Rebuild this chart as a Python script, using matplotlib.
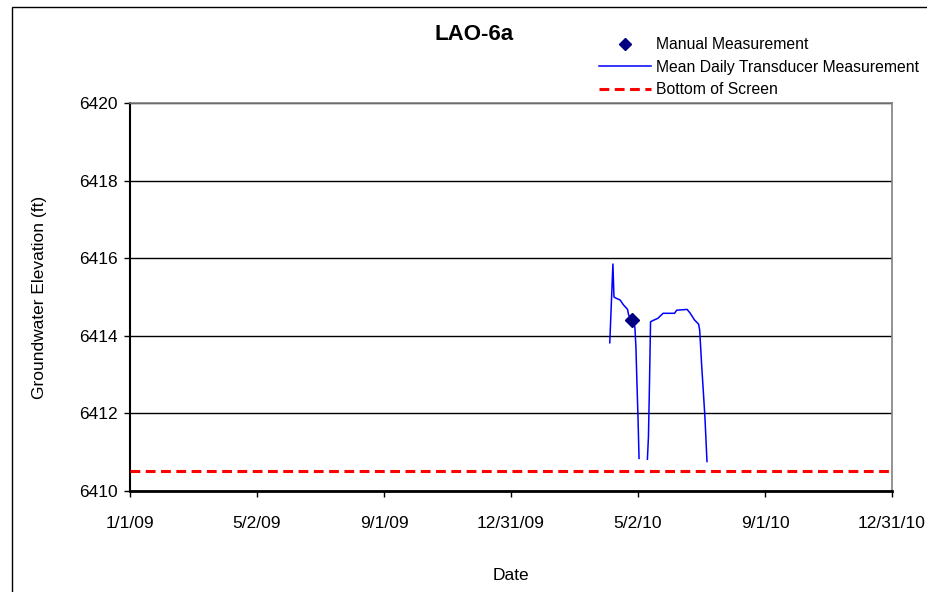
import numpy as np
import pandas as pd
import matplotlib
matplotlib.use("Agg")
import matplotlib.pyplot as plt
import matplotlib.dates as mdates
from matplotlib.lines import Line2D
from matplotlib.patches import Rectangle

plt.rcParams['font.family'] = ['Liberation Sans', 'DejaVu Sans']

# Mean daily transducer record (NaN marks the data gap)
transducer_dates = [
    "2010-04-05", "2010-04-08", "2010-04-09", "2010-04-11", "2010-04-15",
    "2010-04-18", "2010-04-22", "2010-04-23", "2010-04-26", "2010-04-29",
    "2010-04-30", "2010-05-01", "2010-05-02", "2010-05-03", "2010-05-07",
    "2010-05-11", "2010-05-12", "2010-05-13", "2010-05-14", "2010-05-16",
    "2010-05-21", "2010-05-26", "2010-06-06", "2010-06-08", "2010-06-18",
    "2010-06-21", "2010-06-25", "2010-06-29", "2010-06-30", "2010-07-02",
    "2010-07-05", "2010-07-07",
]
transducer_elev = [
    6413.82, 6415.85, 6415.00, 6414.97, 6414.92,
    6414.80, 6414.68, 6414.54, 6414.40, 6414.23,
    6413.72, 6412.78, 6411.90, 6410.84, np.nan,
    6410.82, 6411.40, 6412.78, 6414.36, 6414.39,
    6414.45, 6414.58, 6414.58, 6414.66, 6414.68,
    6414.58, 6414.41, 6414.30, 6414.15, 6413.20,
    6411.92, 6410.76,
]

manual_dates = ["2010-04-26"]
manual_elev = [6414.40]

screen_bottom = 6410.52

tick_labels = ["1/1/09", "5/2/09", "9/1/09", "12/31/09", "5/2/10", "9/1/10", "12/31/10"]

fig = plt.figure(figsize=(9.27, 5.92), dpi=100)
ax = fig.add_axes([130 / 927, 1 - 491 / 592, 762 / 927, 388 / 592])

# outer chart border (runs off the right and bottom of the picture)
fig.patches.append(Rectangle((12 / 927, -0.5), 1.2, 1.5 - 7 / 592,
                             transform=fig.transFigure, fill=False,
                             edgecolor='black', lw=1.0, zorder=0))

t_dates = mdates.date2num(pd.to_datetime(transducer_dates))
m_dates = mdates.date2num(pd.to_datetime(manual_dates))

x0 = mdates.date2num(pd.Timestamp("2009-01-01"))
x1 = mdates.date2num(pd.Timestamp("2010-12-31"))

ax.plot(t_dates, transducer_elev, color='#0000FF', lw=1.1, zorder=3)
ax.plot(m_dates, manual_elev, linestyle='none', marker='D', markersize=7,
        color='#000080', zorder=4)
ax.plot([x0, x1], [screen_bottom, screen_bottom], color='#FF0000', lw=2.2,
        dashes=(3.2, 1.8), zorder=3)

ax.set_xlim(x0, x1)
ax.set_ylim(6410, 6420)
ax.set_yticks(np.arange(6410, 6421, 2))
ax.set_xticks(np.linspace(x0, x1, len(tick_labels)))
ax.set_xticklabels(tick_labels)
ax.grid(axis='y', color='black', lw=1.0)
ax.set_axisbelow(True)

ax.tick_params(axis='both', direction='out', length=4, width=1, labelsize=12.5,
               colors='black')
ax.tick_params(axis='x', pad=14)
ax.tick_params(axis='y', pad=5)

for side in ['top', 'right']:
    ax.spines[side].set_color('#808080')
    ax.spines[side].set_linewidth(1.2)
ax.spines['left'].set_linewidth(1.5)
ax.spines['bottom'].set_linewidth(2)

ax.set_ylabel('Groundwater Elevation (ft)', fontsize=12.5, labelpad=23)
ax.set_xlabel('Date', fontsize=12.5, labelpad=27)

fig.text(474 / 927, 1 - 34 / 592, 'LAO-6a', fontsize=16, fontweight='bold',
         ha='center', va='center')

handles = [
    Line2D([], [], linestyle='none', marker='D', markersize=6.5, color='#000080'),
    Line2D([], [], color='#0000FF', lw=1.1),
    Line2D([], [], color='#FF0000', lw=2.2, dashes=(3.2, 1.8)),
]
labels = ['Manual Measurement', 'Mean Daily Transducer Measurement', 'Bottom of Screen']
fig.legend(handles, labels, loc='upper left', bbox_to_anchor=(599 / 927, 1 - 37 / 592),
           frameon=False, fontsize=11.3, handlelength=3.3, handletextpad=0.35,
           labelspacing=0.48, borderpad=0, borderaxespad=0)

fig.savefig('out.png', dpi=100)
